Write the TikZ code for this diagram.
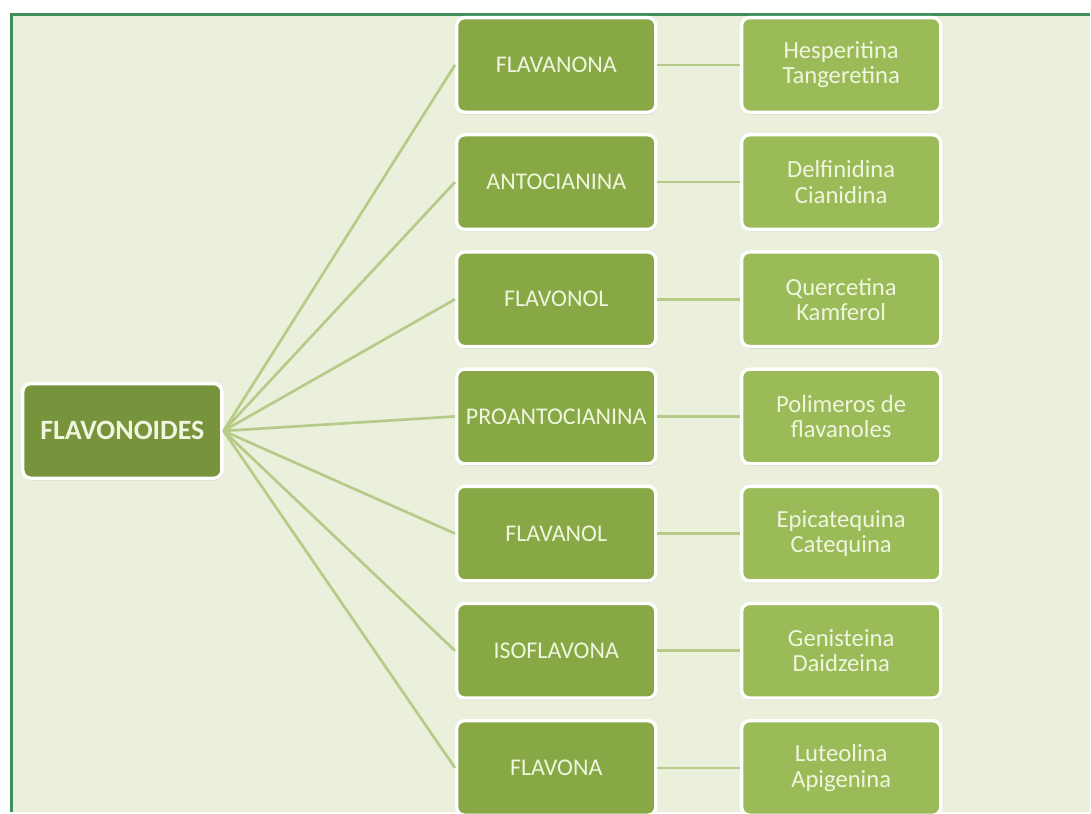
\documentclass[tikz,border=0pt]{standalone}
\usepackage{fontspec}
\setmainfont{Carlito}
\usepackage{xcolor}
\usepackage{tikz}
\usetikzlibrary{positioning}
\usetikzlibrary{shadows}

\definecolor{framegreen}{HTML}{3E8E5E}
\definecolor{paper}{HTML}{EAF0DC}
\definecolor{rootgreen}{HTML}{77933C}
\definecolor{typegreen}{HTML}{88A846}
\definecolor{leafgreen}{HTML}{9BBB59}
\definecolor{linkgreen}{HTML}{B6CB88}
\definecolor{labelgreen}{HTML}{F0F6DE}

\tikzstyle{basebox} = [draw=white, line width=2.5pt, rectangle, rounded corners=6pt,
minimum width=149.5pt, minimum height=71pt, text=labelgreen, align=center,
drop shadow={shadow xshift=0.6pt, shadow yshift=-1.6pt, opacity=0.3, fill=black!45}]
\tikzstyle{rootbox} = [basebox, fill=rootgreen, font=\fontsize{21}{23}\selectfont\bfseries]
\tikzstyle{typebox} = [basebox, fill=typegreen, font=\fontsize{18}{20}\selectfont]
\tikzstyle{leafbox} = [basebox, fill=leafgreen, font=\fontsize{18.5}{19}\selectfont]
\tikzstyle{link} = [draw=linkgreen, line width=2pt]

\begin{document}
\begin{tikzpicture}[x=0.75pt, y=-0.75pt, node distance=14.5pt and 62pt]
    % sheet and its frame
    \fill[white] (0,0) rectangle (1091,813);
    \fill[paper] (12,15) rectangle (1091,813);
    \draw[framegreen, line width=2.25pt] (12,813) -- (12,15) -- (1091,15);
    \useasboundingbox (0,0) rectangle (1091,813);

    \node[rootbox] (flav) at (122.5,431.5) {FLAVONOIDES};

    % families
    \node[typebox] (flavanona) at (557,65) {FLAVANONA};
    \node[typebox, below=of flavanona] (antocianina) {ANTOCIANINA};
    \node[typebox, below=of antocianina] (flavonol) {FLAVONOL};
    \node[typebox, below=of flavonol] (proanto) {PROANTOCIANINA};
    \node[typebox, below=of proanto] (flavanol) {FLAVANOL};
    \node[typebox, below=of flavanol] (isoflavona) {ISOFLAVONA};
    \node[typebox, below=of isoflavona] (flavona) {FLAVONA};

    % examples
    \node[leafbox, right=of flavanona] (hesp) {Hesperitina\\Tangeretina};
    \node[leafbox, right=of antocianina] (delf) {Delfinidina\\Cianidina};
    \node[leafbox, right=of flavonol] (querc) {Quercetina\\Kamferol};
    \node[leafbox, right=of proanto] (polim) {Polimeros de\\flavanoles};
    \node[leafbox, right=of flavanol] (epicat) {Epicatequina\\Catequina};
    \node[leafbox, right=of isoflavona] (genis) {Genisteina\\Daidzeina};
    \node[leafbox, right=of flavona] (luteo) {Luteolina\\Apigenina};

    \draw[link] (flav.east) -- (flavanona.west);
    \draw[link] (flav.east) -- (antocianina.west);
    \draw[link] (flav.east) -- (flavonol.west);
    \draw[link] (flav.east) -- (proanto.west);
    \draw[link] (flav.east) -- (flavanol.west);
    \draw[link] (flav.east) -- (isoflavona.west);
    \draw[link] (flav.east) -- (flavona.west);

    \draw[link] (flavanona.east) -- (hesp.west);
    \draw[link] (antocianina.east) -- (delf.west);
    \draw[link] (flavonol.east) -- (querc.west);
    \draw[link] (proanto.east) -- (polim.west);
    \draw[link] (flavanol.east) -- (epicat.west);
    \draw[link] (isoflavona.east) -- (genis.west);
    \draw[link] (flavona.east) -- (luteo.west);
\end{tikzpicture}
\end{document}
